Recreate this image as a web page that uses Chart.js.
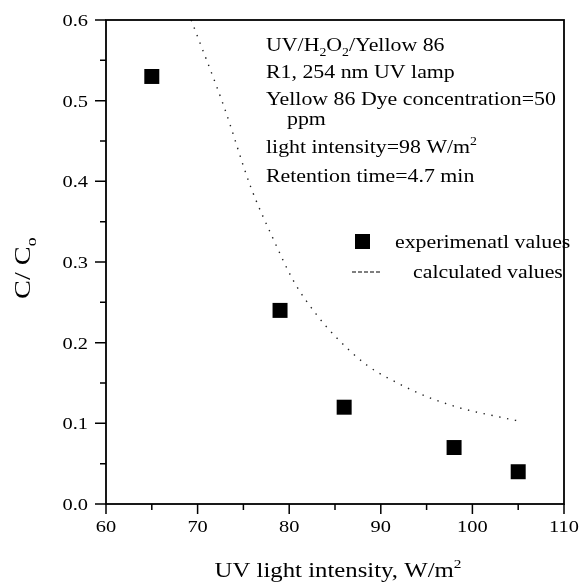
<!DOCTYPE html>
<html>
<head>
<meta charset="utf-8">
<script src="https://cdn.jsdelivr.net/npm/chart.js@4.4.1/dist/chart.umd.min.js"></script>
<style>
  html, body { margin: 0; padding: 0; background: #fff; }
  #wrap { width: 587px; height: 583px; }
</style>
</head>
<body>
<div id="wrap"><canvas id="uvChart" width="587" height="583"></canvas></div>
<script>
// experimental points
const expX = [65, 79, 86, 98, 105];
const expY = [0.53, 0.24, 0.12, 0.07, 0.04];

// calculated curve
const calcX = [69.3, 72.9, 75.8, 78.2, 80.5, 82.9, 85.1, 88.5, 92.0, 95.5, 99.0, 102.5, 105.0];
const calcY = [0.600, 0.492, 0.393, 0.330, 0.276, 0.236, 0.207, 0.172, 0.149, 0.131, 0.118, 0.109, 0.103];

// axis ticks
const xTickValues = [60, 70, 80, 90, 100, 110];
const xTickLabels = ['60', '70', '80', '90', '100', '110'];
const xMinorValues = [65, 75, 85, 95, 105];
const yTickValues = [0, 0.1, 0.2, 0.3, 0.4, 0.5, 0.6];
const yTickLabels = ['0.0', '0.1', '0.2', '0.3', '0.4', '0.5', '0.6'];
const yMinorValues = [0.05, 0.15, 0.25, 0.35, 0.45, 0.55];

const serif = "'Liberation Serif', 'Times New Roman', serif";

// draws a row of text pieces, some of them sub/superscript, a bit wider like the scan
function drawRuns(ctx, runs, x, y, size, sx) {
    let cx = x;
    runs.forEach(r => {
        const txt = r[0], kind = r[1] || 'n';
        const fs = kind === 'n' ? size : Math.round(size * 0.62);
        const dy = kind === 'sub' ? size * 0.25 : (kind === 'sup' ? -size * 0.42 : 0);
        ctx.font = fs + 'px ' + serif;
        ctx.save();
        ctx.translate(cx, y + dy);
        ctx.scale(sx, 1);
        ctx.textAlign = 'left';
        ctx.textBaseline = 'alphabetic';
        ctx.fillText(txt, 0, 0);
        ctx.restore();
        cx += ctx.measureText(txt).width * sx;
    });
    return cx - x;
}

function runsWidth(ctx, runs, size, sx) {
    let w = 0;
    runs.forEach(r => {
        const fs = (r[1] || 'n') === 'n' ? size : Math.round(size * 0.62);
        ctx.font = fs + 'px ' + serif;
        w += ctx.measureText(r[0]).width * sx;
    });
    return w;
}

const framePlugin = {
    id: 'framePlugin',
    afterDraw(chart) {
        const ctx = chart.ctx;
        const a = chart.chartArea;
        const xs = chart.scales.x, ys = chart.scales.y;
        ctx.save();
        ctx.strokeStyle = '#000';
        ctx.fillStyle = '#000';

        // box
        ctx.lineWidth = 1.8;
        ctx.strokeRect(a.left, a.top, a.right - a.left, a.bottom - a.top);

        // ticks, pointing out
        ctx.lineWidth = 1.5;
        ctx.beginPath();
        xTickValues.forEach(v => {
            const p = xs.getPixelForValue(v);
            ctx.moveTo(p, a.bottom); ctx.lineTo(p, a.bottom + 10);
        });
        xMinorValues.forEach(v => {
            const p = xs.getPixelForValue(v);
            ctx.moveTo(p, a.bottom); ctx.lineTo(p, a.bottom + 6);
        });
        yTickValues.forEach(v => {
            const p = ys.getPixelForValue(v);
            ctx.moveTo(a.left, p); ctx.lineTo(a.left - 11, p);
        });
        yMinorValues.forEach(v => {
            const p = ys.getPixelForValue(v);
            ctx.moveTo(a.left, p); ctx.lineTo(a.left - 6, p);
        });
        ctx.stroke();

        // tick labels
        const tsx = 1.2, tfs = 17;
        xTickValues.forEach((v, i) => {
            const p = xs.getPixelForValue(v);
            const w = runsWidth(ctx, [[xTickLabels[i]]], tfs, tsx);
            drawRuns(ctx, [[xTickLabels[i]]], p - w / 2, a.bottom + 28, tfs, tsx);
        });
        yTickValues.forEach((v, i) => {
            const p = ys.getPixelForValue(v);
            const w = runsWidth(ctx, [[yTickLabels[i]]], tfs, tsx);
            drawRuns(ctx, [[yTickLabels[i]]], a.left - 18 - w, p + 6, tfs, tsx);
        });

        // x title
        const xt = [['UV light intensity, W/m'], ['2', 'sup']];
        const xw = runsWidth(ctx, xt, 21, 1.18);
        drawRuns(ctx, xt, 338 - xw / 2, 577, 21, 1.18);

        // y title, rotated
        ctx.save();
        ctx.translate(30, 299);
        ctx.rotate(-Math.PI / 2);
        drawRuns(ctx, [['C/ C'], ['o', 'sub']], 0, 0, 24, 1.18);
        ctx.restore();

        // note block
        const nfs = 19, nsx = 1.15;
        drawRuns(ctx, [['UV/H'], ['2', 'sub'], ['O'], ['2', 'sub'], ['/Yellow 86']], 266, 51, nfs, nsx);
        drawRuns(ctx, [['R1, 254 nm UV lamp']], 266, 78, nfs, nsx);
        drawRuns(ctx, [['Yellow 86 Dye concentration=50']], 266, 105, nfs, nsx);
        drawRuns(ctx, [['ppm']], 287, 125, nfs, nsx);
        drawRuns(ctx, [['light intensity=98 W/m'], ['2', 'sup']], 266, 153, nfs, nsx);
        drawRuns(ctx, [['Retention time=4.7 min']], 266, 182, nfs, nsx);

        // legend
        ctx.fillRect(355, 234, 15, 15);
        drawRuns(ctx, [['experimenatl values']], 395, 248, nfs, nsx);
        ctx.lineWidth = 1.2;
        ctx.setLineDash([4, 2]);
        ctx.beginPath();
        ctx.moveTo(352, 272); ctx.lineTo(382, 272);
        ctx.stroke();
        ctx.setLineDash([]);
        drawRuns(ctx, [['calculated values']], 413, 278, nfs, nsx);

        ctx.restore();
    }
};

const uvChart = new Chart(document.getElementById('uvChart').getContext('2d'), {
    type: 'scatter',
    data: {
        datasets: [
            {
                label: 'experimenatl values',
                data: expX.map((x, i) => ({ x: x, y: expY[i] })),
                pointStyle: 'rect',
                pointRadius: 10.6,
                pointHoverRadius: 10.6,
                backgroundColor: '#000',
                borderColor: '#000',
                borderWidth: 0,
                showLine: false
            },
            {
                label: 'calculated values',
                data: calcX.map((x, i) => ({ x: x, y: calcY[i] })),
                showLine: true,
                pointRadius: 0,
                borderColor: '#222',
                borderWidth: 1.4,
                borderDash: [1.4, 6.6],
                cubicInterpolationMode: 'monotone',
                fill: false
            }
        ]
    },
    options: {
        responsive: false,
        animation: false,
        layout: {
            padding: { left: 0, top: 20, right: 23, bottom: 0 }
        },
        scales: {
            x: {
                type: 'linear',
                min: 60,
                max: 110,
                ticks: { display: false, stepSize: 10 },
                grid: { display: false },
                border: { display: false },
                afterFit: function(scale) { scale.height = 79; }
            },
            y: {
                type: 'linear',
                min: 0,
                max: 0.6,
                ticks: { display: false, stepSize: 0.1 },
                grid: { display: false },
                border: { display: false },
                afterFit: function(scale) { scale.width = 106; }
            }
        },
        plugins: {
            legend: { display: false },
            tooltip: { enabled: false }
        }
    },
    plugins: [framePlugin]
});
</script>
</body>
</html>
